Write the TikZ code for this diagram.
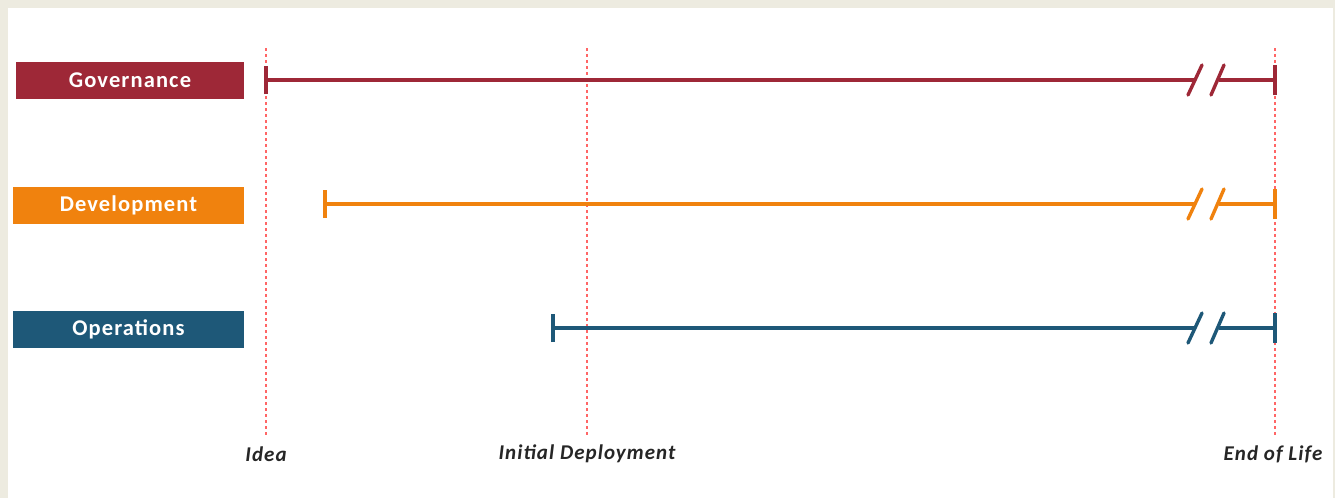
\documentclass[tikz,border=0pt]{standalone}
\usepackage{fontspec}
\setmainfont{Carlito}
\newfontfamily\labfont[LetterSpace=5]{Carlito}
\begin{document}
\begin{tikzpicture}[x=1pt,y=-1pt,
  lab/.style={draw=none,minimum height=37pt,inner sep=0pt,text=white,font=\labfont\fontsize{22.5}{24}\selectfont\bfseries},
  bar/.style={line width=3.4pt},
  guide/.style={draw=red!60!white,line width=1.3pt,dash pattern=on 3pt off 3pt},
  mile/.style={font=\labfont\fontsize{21}{23}\selectfont\bfseries\itshape,text=black!85,inner sep=0pt}
]
\definecolor{gov}{HTML}{9E2837}
\definecolor{dev}{HTML}{F0820E}
\definecolor{ops}{HTML}{1E5878}
\definecolor{frame}{HTML}{EDEBE0}
\fill[frame] (0,0) rectangle (1335,498);
\fill[white] (8,8) rectangle (1333,498);
\useasboundingbox (0,0) rectangle (1335,498);

% guides
\coordinate (gI1) at (266,48); \coordinate (gI2) at (266,435);
\coordinate (gD1) at (587,48); \coordinate (gD2) at (587,435);
\coordinate (gE1) at (1275,48); \coordinate (gE2) at (1275,435);
\draw[guide] (gI1) -- (gI2);
\draw[guide] (gD1) -- (gD2);
\draw[guide] (gE1) -- (gE2);

\node[mile] (idea) at (266,454) {Idea};
\node[mile] (init) at (587,454) {Initial Deployment};
\node[mile] (eol) at (1273,454) {End of Life};

% boxes
\node[lab,fill=gov,minimum width=228pt] (govbox) at (130,80) {Governance};
\node[lab,fill=dev,minimum width=231pt] (devbox) at (128.5,205.5) {Development};
\node[lab,fill=ops,minimum width=231pt] (opsbox) at (128.5,329) {Operations};

% bars
\foreach \y/\xs/\c/\n in {80/266/gov/g, 204/325/dev/d, 328/553/ops/o}{
  \coordinate (\n s) at (\xs,\y);
  \coordinate (\n b1) at (1195,\y);
  \coordinate (\n b2) at (1219,\y);
  \coordinate (\n e) at (1275,\y);
  \draw[bar,draw=\c] (\n s) -- (\n b1);
  \draw[bar,draw=\c] (\n b2) -- (\n e);
  \draw[bar,draw=\c] ([yshift=-14]\n s) -- ([yshift=14]\n s);
  \draw[bar,draw=\c] ([yshift=-15]\n e) -- ([yshift=15]\n e);
  \draw[bar,draw=\c,line cap=round] ([xshift=-7,yshift=-15]\n b1) -- ([xshift=7,yshift=15]\n b1);
  \draw[bar,draw=\c,line cap=round] ([xshift=-8,yshift=-15]\n b2) -- ([xshift=5,yshift=15]\n b2);
}
\end{tikzpicture}
\end{document}
